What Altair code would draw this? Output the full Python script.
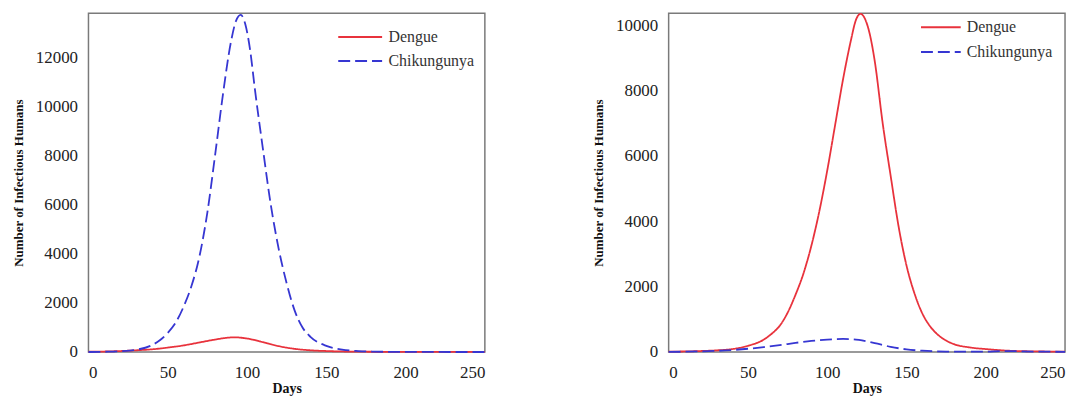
import altair as alt
import pandas as pd

SERIES = ["Dengue", "Chikungunya"]
COLORS = ["#e8323c", "#3636d2"]
DASHES = [[1, 0], [12, 5]]
FONT = "Liberation Serif"

# Left panel
left_dengue_days = [0, 10, 20, 30, 40, 50, 60, 70, 80, 86, 92, 98, 104, 110, 120, 130, 140, 150, 170, 200, 250]
left_dengue_vals = [10, 20, 40, 70, 110, 180, 270, 390, 510, 570, 600, 570, 500, 400, 240, 130, 70, 40, 15, 5, 2]
left_chik_days = [0, 10, 20, 30, 40, 45, 50, 55, 60, 65, 70, 75, 80, 85, 90, 93, 96, 99, 102, 105, 110, 115,
                  120, 125, 130, 135, 140, 150, 160, 170, 180, 200, 250]
left_chik_vals = [0, 10, 30, 90, 280, 480, 780, 1200, 1850, 2700, 3900, 5700, 8100, 10600, 12700, 13500, 13750,
                  13350, 12300, 10700, 8300, 6000, 4200, 2800, 1700, 1000, 620, 250, 100, 40, 15, 5, 0]

# Right panel
right_dengue_days = [0, 20, 30, 40, 50, 60, 65, 70, 75, 80, 85, 90, 95, 100, 105, 110, 115, 118, 121, 124,
                     127, 130, 135, 140, 145, 150, 155, 160, 165, 170, 175, 180, 190, 200, 220, 250]
right_dengue_vals = [10, 30, 50, 90, 190, 380, 560, 800, 1200, 1750, 2400, 3250, 4300, 5550, 6950, 8350,
                     9550, 10150, 10350, 10180, 9700, 8900, 7000, 5400, 3850, 2650, 1800, 1180, 780, 520, 350,
                     240, 140, 90, 30, 10]
right_chik_days = [0, 20, 40, 50, 60, 70, 80, 90, 100, 110, 115, 120, 130, 140, 150, 160, 175, 200, 210, 230, 250]
right_chik_vals = [5, 20, 60, 100, 150, 210, 280, 340, 380, 400, 395, 370, 270, 160, 80, 40, 15, 10, 30, 15, 5]

Y_TICKS_LEFT = [0, 2000, 4000, 6000, 8000, 10000, 12000]
Y_TICKS_RIGHT = [0, 2000, 4000, 6000, 8000, 10000]
X_TICKS = [0, 50, 100, 150, 200, 250]


def frame(dd, dv, cd, cv):
    rows = [{"day": d, "value": v, "series": "Dengue"} for d, v in zip(dd, dv)]
    rows += [{"day": d, "value": v, "series": "Chikungunya"} for d, v in zip(cd, cv)]
    return pd.DataFrame(rows)


def legend(lx, ly, rp, size):
    return alt.Legend(title=None, orient="none", legendX=lx, legendY=ly,
                      symbolType="stroke", symbolSize=size, symbolStrokeWidth=2,
                      labelFont=FONT, labelFontSize=16, labelColor="#333",
                      clipHeight=16, rowPadding=rp, padding=0, labelOffset=5)


def panel(df, ymax, yticks, lx, ly, rp, size):
    return alt.Chart(df).mark_line(strokeWidth=1.8, interpolate="monotone").encode(
        x=alt.X("day:Q", title="Days", scale=alt.Scale(domain=[0, 250], nice=False),
                axis=alt.Axis(values=X_TICKS, labelPadding=13, titlePadding=1, format="d",
                              titleFontSize=14)),
        y=alt.Y("value:Q", title="Number of Infectious Humans",
                scale=alt.Scale(domain=[0, ymax], nice=False),
                axis=alt.Axis(values=yticks, labelPadding=11, titlePadding=10, format="d",
                              titleFontSize=13)),
        color=alt.Color("series:N", scale=alt.Scale(domain=SERIES, range=COLORS),
                        legend=legend(lx, ly, rp, size)),
        strokeDash=alt.StrokeDash("series:N", scale=alt.Scale(domain=SERIES, range=DASHES),
                                  legend=legend(lx, ly, rp, size)),
        order=alt.Order("day:Q"),
    ).properties(width=399, height=341)


left = panel(frame(left_dengue_days, left_dengue_vals, left_chik_days, left_chik_vals),
             13820, Y_TICKS_LEFT, 250, 16, 8, 1950)
right = panel(frame(right_dengue_days, right_dengue_vals, right_chik_days, right_chik_vals),
              10370, Y_TICKS_RIGHT, 253, 6, 9, 1600)

chart = alt.hconcat(left, right, spacing=102).resolve_scale(
    color="independent", strokeDash="independent"
).resolve_legend(color="independent", strokeDash="independent").properties(
    padding={"left": 3, "top": 0, "right": 0, "bottom": 0}
).configure(font=FONT).configure_view(stroke="#7a7a7a", strokeWidth=1.5).configure_axis(
    grid=False, domain=False, ticks=False, labelFont=FONT, titleFont=FONT,
    labelFontSize=17, titleFontWeight="bold", labelColor="#222", titleColor="#111"
)

chart.save("out.html", embed_options={"renderer": "svg", "actions": False})
